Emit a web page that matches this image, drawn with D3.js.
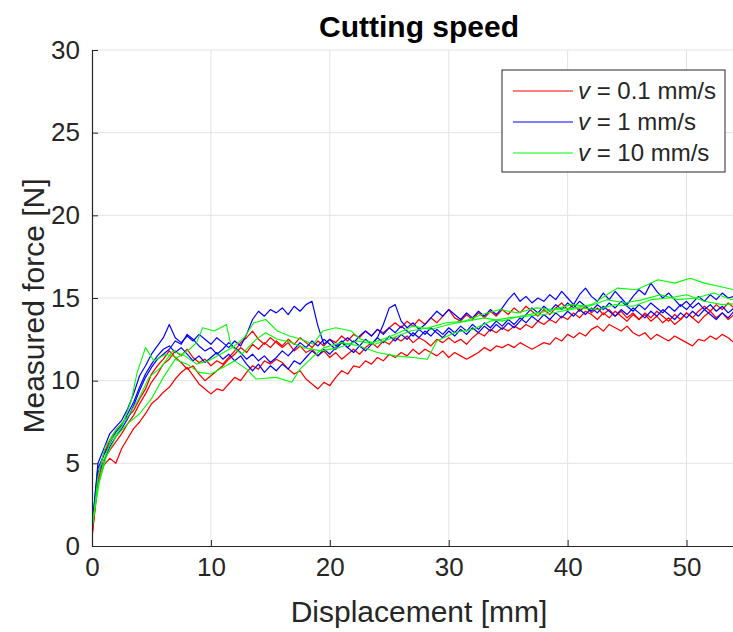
<!DOCTYPE html>
<html>
<head>
<meta charset="utf-8">
<script src="https://cdn.jsdelivr.net/npm/d3@7"></script>
<style>
  body { margin: 0; background: #fff; }
  svg { display: block; font-family: 'Liberation Sans', Arial, Helvetica, sans-serif; }
</style>
</head>
<body>
<div id="chart"></div>
<script>
// Cutting speed: measured force vs displacement, three runs per speed.

// shared displacement samples (mm) for the densely logged runs
const xFine = d3.range(0, 55, 0.5);

// v = 0.1 mm/s
const red1 = [
  0.5, 3.8, 4.9, 5.3, 5.0, 5.9, 6.5, 7.1, 7.5, 8.0,
  8.6, 8.9, 9.3, 9.6, 10.1, 10.5, 10.8, 10.3, 9.8, 9.5,
  9.2, 9.5, 9.4, 9.8, 10.2, 10.0, 10.5, 10.9, 10.7, 11.2,
  11.0, 11.3, 11.1, 10.7, 10.4, 10.6, 10.1, 9.8, 9.5, 9.9,
  9.7, 10.2, 10.6, 10.4, 10.9, 10.8, 11.2, 11.0, 11.4, 11.2,
  11.6, 11.4, 11.7, 11.5, 11.9, 11.6, 11.9, 11.7, 11.5, 11.8,
  11.4, 11.7, 11.5, 11.3, 11.5, 11.7, 12.0, 11.8, 12.1, 12.0,
  12.2, 12.0, 12.3, 12.1, 11.9, 12.1, 12.3, 12.2, 12.6, 12.4,
  12.8, 12.6, 12.9, 12.7, 13.1, 13.3, 13.0, 13.4, 13.2, 13.0,
  13.3, 12.9, 12.7, 12.9, 12.5, 12.8, 12.6, 12.4, 12.7, 12.5,
  12.3, 12.1, 12.5, 12.4, 12.7, 12.5, 12.8, 12.6, 12.3, 13.0
];
const red2 = [
  0.7, 4.0, 5.2, 5.8, 6.3, 6.8, 7.4, 7.9, 8.6, 9.2,
  9.9, 10.4, 11.0, 11.3, 11.8, 11.5, 11.9, 11.4, 11.1, 11.3,
  10.9, 11.2, 11.0, 11.4, 11.8, 12.3, 12.6, 13.0, 12.5, 12.2,
  12.6, 12.3, 12.0, 12.3, 11.8, 12.1, 11.7, 11.9, 11.5, 11.8,
  11.4, 11.7, 11.3, 11.6, 11.9, 11.6, 12.0, 12.3, 12.0, 12.4,
  12.2, 12.6, 12.4, 12.7, 12.3, 12.6, 12.4, 12.1, 12.5, 12.3,
  12.6, 12.3, 12.5, 12.2, 12.6, 12.9, 12.7, 13.1, 12.9, 13.2,
  13.0, 13.3, 13.1, 13.4, 13.2, 13.6, 13.4, 13.7, 13.5, 13.9,
  13.7, 14.1, 13.8, 14.2, 14.0, 13.7, 14.1, 13.8, 14.2, 13.9,
  13.6, 14.0, 13.7, 14.1, 13.8, 14.2, 13.9, 13.6, 14.0, 13.7,
  14.1, 13.8, 13.5, 13.9, 14.2, 13.8, 14.1, 13.7, 14.0, 13.8
];
const red3 = [
  0.6, 4.3, 5.6, 6.4, 7.0, 7.4, 7.8, 8.2, 8.9, 9.5,
  10.4, 10.9, 11.3, 11.8, 11.4, 11.1, 10.7, 10.9, 10.4, 10.0,
  10.3, 10.6, 10.9, 11.3, 11.6, 12.0, 11.7, 12.2, 11.9, 12.3,
  12.0, 12.4, 12.1, 12.5, 12.2, 12.6, 12.3, 12.0, 12.4, 12.1,
  12.5, 12.3, 12.7, 12.4, 12.8, 12.6, 13.0, 12.7, 13.1, 12.9,
  13.2, 13.5, 13.2, 13.6, 13.3, 13.7, 13.4, 13.8, 13.5, 13.9,
  14.3, 13.8, 13.6, 14.0, 13.7, 14.1, 13.8, 14.2, 13.9, 14.3,
  14.0, 14.4, 14.1, 14.5, 14.2, 13.9, 14.3, 14.0, 14.4, 14.7,
  14.3, 14.6, 14.2, 14.5, 14.1, 14.4, 14.0, 14.3, 13.9, 14.2,
  13.8, 14.1, 13.7, 14.0, 13.6, 13.9, 13.5, 13.8, 13.4, 13.7,
  14.1, 13.8, 14.2, 14.5, 14.2, 14.6, 14.3, 14.7, 14.4, 14.1
];

// v = 1 mm/s
const blue1 = [
  1.0, 5.0, 5.9, 6.8, 7.2, 7.6, 8.3, 9.2, 10.3, 10.9,
  11.6, 12.1, 12.6, 13.4, 12.6, 12.3, 12.7, 12.4, 12.8, 12.5,
  12.2, 12.6, 12.3, 12.0, 12.4, 12.1, 12.8, 13.7, 14.2, 13.9,
  14.3, 14.1, 14.4, 14.0, 14.5, 14.2, 14.6, 14.8, 13.3, 12.2,
  12.5, 12.1, 12.4, 12.0, 11.7, 12.1, 11.8, 12.2, 12.6, 13.4,
  14.4, 14.6, 13.6, 13.2, 13.5, 13.1, 13.4, 13.8, 14.2, 13.9,
  14.3, 14.0, 13.7, 14.1, 13.8, 14.2, 13.9, 14.3, 14.0, 14.4,
  14.9, 15.3, 14.8, 15.1, 14.7, 15.0, 14.8, 15.2, 14.9, 15.4,
  15.0, 14.6, 15.2, 15.6, 15.1, 14.8, 15.3, 14.9, 15.4, 15.0,
  14.6, 15.1, 15.5, 15.2, 15.9, 15.4, 15.0, 15.3, 14.9, 14.5,
  14.8, 14.4, 14.7, 14.3, 14.6, 14.2, 14.5, 14.1, 14.4, 14.2
];
const blue2 = [
  1.2, 4.7, 5.5, 6.2, 6.9, 7.3, 8.0, 8.7, 9.6, 10.4,
  11.0, 11.5, 11.9, 12.1, 11.7, 12.0, 11.6, 11.2, 11.5, 11.1,
  11.4, 11.7, 11.3, 11.6, 11.2, 11.5, 11.0, 10.6, 11.0, 10.5,
  10.9, 10.6, 11.0, 10.7, 11.2, 11.0, 11.4, 11.8, 11.5, 11.9,
  11.6, 12.0, 12.3, 12.0, 12.4, 12.1, 12.5, 12.2, 12.6, 12.3,
  12.7, 12.4, 12.8, 12.5, 12.9, 12.6, 13.0, 12.7, 13.1, 12.8,
  13.2, 12.9, 13.3, 13.0, 13.4, 13.1, 13.5, 13.2, 13.6, 13.3,
  13.7, 13.4, 13.8, 13.5, 13.9, 13.6, 14.0, 13.7, 14.1, 13.8,
  14.2, 13.9, 14.3, 14.0, 14.4, 14.1, 14.5, 14.2, 13.9, 14.3,
  14.0, 14.4, 14.1, 13.8, 14.2, 13.9, 14.3, 14.0, 13.7, 14.1,
  13.8, 14.2, 13.9, 14.3, 14.0, 13.7, 14.1, 13.8, 14.2, 14.0
];
const blue3 = [
  0.9, 4.4, 5.1, 6.0, 6.6, 7.1, 7.7, 8.5, 9.4, 10.2,
  10.8, 11.3, 11.6, 11.9, 12.4, 12.2, 12.8, 12.5, 12.1, 11.8,
  12.0, 11.6, 11.9, 12.3, 12.0, 11.7, 11.3, 11.6, 11.2, 11.5,
  11.1, 11.4, 11.8, 11.5, 11.9, 12.3, 12.0, 12.4, 12.1, 12.5,
  12.2, 11.9, 12.3, 12.6, 12.3, 12.7, 13.0, 12.7, 13.1, 12.8,
  13.2, 12.9, 13.3, 13.0, 12.7, 13.1, 12.8, 13.2, 12.9, 12.6,
  13.0, 12.7, 13.1, 12.8, 13.2, 12.9, 13.3, 13.0, 13.4, 13.1,
  13.5, 13.2, 13.6, 14.0, 14.4, 14.1, 14.5, 14.2, 14.6, 14.3,
  14.7, 14.4, 14.8, 14.5, 14.2, 14.6, 14.3, 14.7, 14.4, 14.8,
  14.5, 14.2, 14.6, 14.3, 14.7, 14.4, 14.1, 14.5, 14.2, 14.6,
  14.3, 14.7, 15.1, 14.8, 15.2, 14.9, 15.3, 15.0, 15.1, 14.8
];

// v = 10 mm/s (sparser logging, [displacement, force])
const green1 = [
  [0, 1.0], [0.4, 3.2], [1, 5.2], [1.6, 6.4], [2.5, 7.2], [3.3, 8.8], [3.8, 10.5],
  [4.5, 12.0], [5.2, 11.2], [6.2, 11.6], [7.2, 11.4], [8.2, 11.9], [8.8, 12.3],
  [9.3, 13.2], [10.3, 13.0], [11.3, 13.4], [11.7, 12.1], [12.6, 11.6], [13.8, 12.5],
  [14.6, 12.9], [15.6, 12.5], [16.8, 12.3], [17.8, 12.0], [19.2, 11.8], [20.8, 12.0],
  [22.3, 12.4], [23.8, 12.2], [25.3, 12.6], [26.8, 13.0], [28.3, 13.2], [29.8, 13.5],
  [31.3, 13.6], [32.8, 14.0], [34.3, 14.3], [35.8, 14.1], [37.3, 14.4], [38.8, 14.3],
  [40.3, 14.6], [41.8, 14.5], [43.3, 14.9], [44.8, 14.7], [46.3, 14.9], [47.8, 15.2],
  [49.3, 14.9], [50.8, 15.0], [52.3, 15.3], [53.8, 14.9], [55, 15.0]
];
const green2 = [
  [0, 1.2], [0.6, 3.8], [1.2, 5.4], [2, 6.6], [3, 7.4], [4, 8.0], [5, 8.9], [6, 10.2],
  [7, 11.3], [8, 11.0], [9, 10.5], [10, 10.4], [11, 10.8], [12, 11.2], [13, 10.7],
  [13.8, 10.1], [15.5, 10.2], [16.8, 9.9], [17.5, 10.7], [18.5, 11.4], [19.5, 12.0],
  [21, 12.3], [22.5, 12.1], [24, 11.7], [25.5, 11.5], [27, 11.4], [28.2, 11.3],
  [29, 12.4], [30.5, 12.9], [32, 13.1], [33.5, 13.6], [35, 13.8], [36.5, 13.9],
  [38, 14.0], [39.5, 14.2], [41, 14.4], [42.5, 14.3], [44, 14.6], [45.5, 14.5],
  [47, 14.9], [48.5, 15.0], [50, 15.2], [51.5, 14.8], [53, 14.6], [55, 14.7]
];
const green3 = [
  [0, 0.9], [0.5, 4.2], [1.1, 6.0], [2, 7.0], [3, 7.8], [4, 9.0], [4.8, 10.2],
  [5.8, 10.8], [6.8, 11.8], [7.8, 11.5], [8.8, 11.0], [9.8, 11.2], [10.8, 11.6],
  [11.8, 12.0], [12.8, 12.6], [13.6, 13.5], [14.6, 13.7], [15.6, 13.0], [16.6, 12.7],
  [17.6, 12.5], [18.6, 12.2], [19.4, 13.0], [20.5, 13.2], [21.8, 13.0], [22.6, 12.5],
  [23.6, 12.3], [24.8, 12.6], [25.8, 12.9], [27, 13.3], [28.5, 13.1], [30, 13.4],
  [31.5, 13.6], [33, 13.8], [34.5, 13.6], [36, 13.9], [37.5, 14.1], [39, 14.3],
  [40.5, 14.4], [42, 14.6], [44.2, 15.6], [45.8, 15.5], [47.6, 16.1], [49, 15.9],
  [50.3, 16.2], [51.5, 15.9], [52.8, 15.7], [54, 15.5], [55, 15.4]
];

const xTicks = [0, 10, 20, 30, 40, 50];
const yTicks = [0, 5, 10, 15, 20, 25, 30];
const legendLabels = ['0.1', '1', '10'];

const W = 733, H = 632;
const box = { left: 92, top: 50, right: 746, bottom: 546 };
const axisColor = '#262626';
const gridColor = '#e3e3e3';

const svg = d3.select('#chart').append('svg')
  .attr('width', W)
  .attr('height', H);

svg.append('rect').attr('width', W).attr('height', H).attr('fill', '#fff');

const x = d3.scaleLinear().domain([0, 55]).range([box.left, box.right]);
const y = d3.scaleLinear().domain([0, 30]).range([box.bottom, box.top]);

// grid
svg.append('g').selectAll('line')
  .data(xTicks.slice(1))
  .join('line')
  .attr('x1', d => x(d)).attr('x2', d => x(d))
  .attr('y1', box.top).attr('y2', box.bottom)
  .attr('stroke', gridColor).attr('stroke-width', 1);
svg.append('g').selectAll('line')
  .data(yTicks.slice(1))
  .join('line')
  .attr('x1', box.left).attr('x2', box.right)
  .attr('y1', d => y(d)).attr('y2', d => y(d))
  .attr('stroke', gridColor).attr('stroke-width', 1);

svg.append('defs').append('clipPath').attr('id', 'plotclip')
  .append('rect')
  .attr('x', box.left).attr('y', box.top)
  .attr('width', box.right - box.left).attr('height', box.bottom - box.top);

const plot = svg.append('g').attr('clip-path', 'url(#plotclip)');

const line = d3.line().x(d => x(d[0])).y(d => y(d[1]));
const fine = vals => vals.map((v, i) => [xFine[i], v]);

const series = [
  { data: fine(red1), color: '#ff0000', w: 1.25 },
  { data: fine(red2), color: '#ff0000', w: 1.25 },
  { data: fine(red3), color: '#ff0000', w: 1.25 },
  { data: fine(blue1), color: '#0000ff', w: 1.2 },
  { data: fine(blue2), color: '#0000ff', w: 1.2 },
  { data: fine(blue3), color: '#0000ff', w: 1.2 },
  { data: green1, color: '#00ff00', w: 1.1 },
  { data: green2, color: '#00ff00', w: 1.1 },
  { data: green3, color: '#00ff00', w: 1.1 }
];

plot.selectAll('path')
  .data(series)
  .join('path')
  .attr('d', d => line(d.data))
  .attr('fill', 'none')
  .attr('stroke', d => d.color)
  .attr('stroke-width', d => d.w)
  .attr('stroke-linejoin', 'round');

// axes (box off, ticks inside)
const xAxis = d3.axisBottom(x).tickValues(xTicks).tickSizeInner(-6).tickSizeOuter(0).tickPadding(12);
const yAxis = d3.axisLeft(y).tickValues(yTicks).tickSizeInner(-6).tickSizeOuter(0).tickPadding(12);

const gx = svg.append('g').attr('transform', `translate(0,${box.bottom})`).call(xAxis);
const gy = svg.append('g').attr('transform', `translate(${box.left},0)`).call(yAxis);

[gx, gy].forEach(g => {
  g.select('.domain').attr('stroke', axisColor).attr('stroke-width', 1.2);
  g.selectAll('.tick line').attr('stroke', axisColor);
  g.selectAll('.tick text')
    .attr('fill', axisColor)
    .style('font-size', '26px')
    .style('font-family', "'Liberation Sans', Arial, sans-serif");
});

// labels
svg.append('text')
  .attr('x', (box.left + box.right) / 2).attr('y', 622)
  .attr('text-anchor', 'middle')
  .attr('fill', axisColor)
  .style('font-size', '30px')
  .text('Displacement [mm]');

svg.append('text')
  .attr('transform', `translate(44,${(box.top + box.bottom) / 2 + 8}) rotate(-90)`)
  .attr('text-anchor', 'middle')
  .attr('fill', axisColor)
  .style('font-size', '30px')
  .text('Measured force [N]');

svg.append('text')
  .attr('x', (box.left + box.right) / 2).attr('y', 37)
  .attr('text-anchor', 'middle')
  .attr('fill', '#000')
  .style('font-size', '30px')
  .style('font-weight', 'bold')
  .text('Cutting speed');

// legend
const legend = svg.append('g').attr('transform', 'translate(502,70)');
legend.append('rect')
  .attr('width', 223).attr('height', 102)
  .attr('fill', '#fff')
  .attr('stroke', axisColor).attr('stroke-width', 1);

const legColors = ['#ff0000', '#0000ff', '#00ff00'];
const rows = legend.selectAll('g.row')
  .data(legendLabels)
  .join('g')
  .attr('class', 'row')
  .attr('transform', (d, i) => `translate(0,${21 + i * 31})`);

rows.append('line')
  .attr('x1', 11).attr('x2', 71)
  .attr('stroke', (d, i) => legColors[i])
  .attr('stroke-width', 1.1);

const lt = rows.append('text')
  .attr('x', 76).attr('dy', '0.35em')
  .attr('fill', axisColor)
  .style('font-size', '24px');
lt.append('tspan').style('font-style', 'italic').text('v');
lt.append('tspan').text(d => ` = ${d} mm/s`);
</script>
</body>
</html>
